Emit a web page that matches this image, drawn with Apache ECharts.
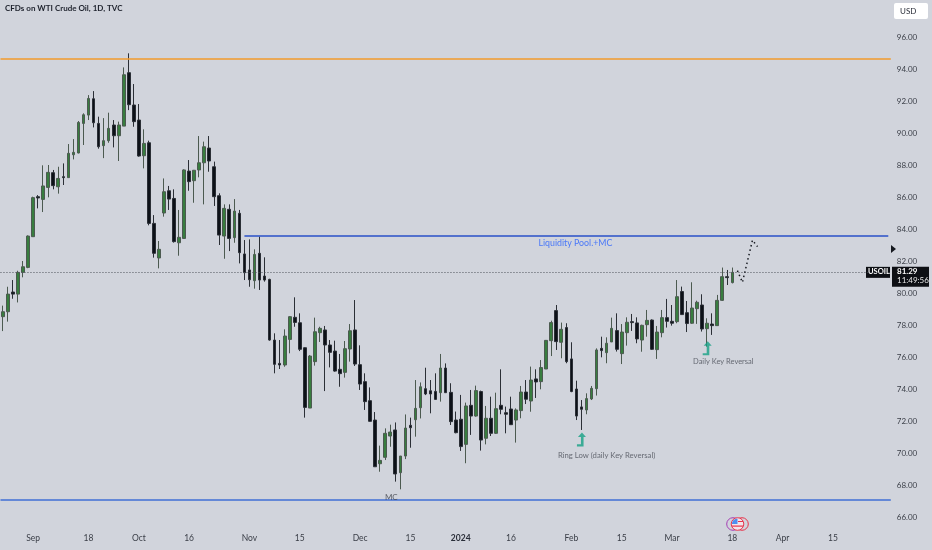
<!DOCTYPE html>
<html><head><meta charset="utf-8">
<style>html,body{margin:0;padding:0;background:#d1d4dc}#c{width:932px;height:550px}</style>
<script src="https://cdn.jsdelivr.net/npm/echarts@6/dist/echarts.min.js"></script>
</head><body><div id="c"></div>
<script>
const tickIndexes=[6,17,27,37,49,59,71,81,91,101,113,123,133,145,155,165];
const tickLabels=["Sep","18","Oct","16","Nov","15","Dec","15","2024","16","Feb","15","Mar","18","Apr","15"];
const opens=[78.52,78.83,80.06,79.93,81.29,81.6,83.52,86.02,85.85,86.6,87.52,86.64,87.27,87.21,88.64,88.75,90.6,91.12,92.14,90.6,89.21,89.52,90.5,89.83,90.43,93.77,91.75,90.81,88.58,89.39,84.35,82.19,85,86.39,85.91,83.14,83.41,87.62,87.02,87.69,88.14,89.06,87.89,86.08,83.56,85.23,83.46,84.98,82.44,81.44,80.77,82.48,81.06,80.85,77.06,75.6,75.5,77.1,78.48,78.14,76.58,72.81,75.71,77.52,77.69,76.75,76.37,75.23,75.04,76.5,77.69,75.52,74.46,73.27,72.06,69.33,69.73,71.06,71.44,68.77,69.81,71.73,72.08,72.83,74.02,73.89,73.85,73.77,75.31,73.79,72.06,72.11,70.54,72.98,72.31,73.84,70.92,72.17,71.23,72.98,72.52,72.75,72.06,72.65,73.81,73.25,74.63,74.46,75.25,77.02,78.9,76.92,77.84,75.88,74,72.88,72.69,73.38,74.02,76.54,76.27,76.94,77.65,76.21,77.52,78.21,78.13,77.06,78.02,78.31,76.46,77.52,78.46,78.23,78.21,80.09,78.77,78.11,79.02,79.25,77.77,78.06,77.96,79.54,81.02,80.65];
const closes=[78.83,79.93,79.93,81.29,81.64,83.56,85.96,85.94,86.69,87.54,86.71,87.16,87.21,88.73,88.79,90.66,91.14,92.16,90.64,89.14,89.52,90.29,89.83,90.5,93.64,91.77,90.71,88.56,89.35,84.35,82.48,82.73,86.33,85.87,83.21,83.48,87.69,86.96,87.67,88.14,89.14,88.25,86.02,83.62,85.29,83.41,85.12,82.52,81.27,80.83,82.41,80.81,80.81,77.06,75.54,75.5,77.31,78.52,78.16,76.48,72.85,76.06,77.58,77.79,76.75,76.29,75.12,74.96,76.52,77.64,75.56,74.31,73.21,71.98,69.14,69.54,71.23,71.31,68.69,69.81,71.56,71.58,72.79,74.14,73.69,73.69,73.35,75.31,73.77,71.96,71.27,70.4,72.94,72.31,73.9,70.81,72.17,71.23,72.77,72.73,72.42,71.77,72.69,73.81,73.36,74.56,74.44,75.34,77.04,78.15,76.96,77.73,75.71,73.84,72.31,72.73,73.4,74.04,76.44,76.4,76.86,77.79,76.48,77.56,78.17,78.15,77.13,77.98,78.29,76.48,77.56,78.46,78.23,78.11,79.77,78.65,78.09,79.06,79.42,77.75,78.11,77.96,79.54,81.02,80.96,81.29];
const lows=[77.62,78.21,79.64,79.41,80.98,81.55,83.5,85.29,85.06,85.98,86.48,86.21,86.75,87.21,88.35,88.73,89.25,90.81,90.35,89.02,88.43,89.39,89.1,88.25,90.43,91.43,90.39,88.52,87.79,84.23,82.21,81.54,84.77,85.19,83.15,82.33,83.41,86.39,85.64,87.23,85.54,87.58,85.44,83,82.14,82.62,83.14,81.85,80.81,80.39,80.27,80.19,80.71,77.02,74.98,75.25,75.39,76.23,77.89,76.37,72.21,72.81,75.46,76.94,73.87,75.35,75.08,74.14,74.71,75.71,75.44,73.94,72.69,71.96,69.14,68.83,69.56,70.39,68.21,67.73,69.62,70.33,71.02,72.16,73.62,72.48,73.35,73.21,73.77,71.75,71.23,70.13,69.36,71.13,72.27,70.15,70.54,71.06,71.19,72.42,71.23,71.75,70.65,72.17,73.06,72.58,73.44,73.98,75.25,76.06,76.44,75.92,75.61,73.8,72.06,71.44,72.42,73.31,73.59,75.98,75.61,76.94,76.34,75.56,76.71,77.63,76.86,76.33,77.27,76.44,75.88,77.23,77.84,77.96,78.11,78.63,77.56,78.07,78.07,77.59,76.65,77.38,77.94,79.5,80.5,80.6];
const highs=[79.21,80.39,80.81,81.39,82,83.6,86.02,86.12,87.98,88,87.69,87.89,88.1,89.31,89.62,90.75,91.23,92.37,92.62,91.02,90.93,91.27,90.81,90.71,94.1,94.98,93.06,91.81,90.23,89.52,84.87,83.25,87.16,86.69,86.48,85.19,87.73,88.31,87.69,89.81,89.46,89.81,88.21,86.23,85.54,85.54,85.87,85.19,83.31,83.35,82.73,83.52,82.23,80.89,77.48,77.06,77.73,78.56,79.73,78.73,76.6,76.12,78.46,77.89,77.94,77.06,77.02,76.19,77,78.06,79.56,76.73,74.98,74.1,72.56,70.46,71.54,71.77,71.91,69.81,72.41,72.21,74.56,74.41,75.33,74.56,74.98,76.19,75.6,74.36,72.59,73.63,73.15,73.94,74.21,73.9,72.94,73.52,73.77,75.23,72.9,73.52,72.79,74.19,74.56,75.4,75.23,75.81,77.06,78.27,79.25,78.15,78.11,76.92,74.52,73.31,73.73,74.19,76.54,77.27,77.23,78.46,78.73,78.06,78.48,78.69,78.48,78.02,78.94,78.35,77.94,78.94,79.63,79.25,80.81,80.4,79.5,80.67,79.52,79.92,78.42,78.73,79.88,81.59,81.44,81.59];
const levelTop=94.65, levelLiquidity=83.55, levelBottom=67.07, lastPrice=81.29;
const liquidityStart=48;
const projection=[[146,81.4],[147,80.67],[149,83.3],[150,82.9]];
const arrows=[[115,70.85],[140,76.55]];
const notes=[[114,83.12,"Liquidity Pool.+MC",-1,"#2962ff",8.8],[77,67.25,"MC",1,"#3c4048",8],[120,69.87,"Ring Low (daily Key Reversal)",0,"#4a4e57",7.7],[143,75.69,"Daily Key Reversal",1,"#4a4e57",7.5]];
const BAND_COUNT=177;

const categories=Array.from({length:BAND_COUNT},(_,i)=>{const k=tickIndexes.indexOf(i);return k<0?"":tickLabels[k];});
const candles=opens.map((o,i)=>[o,closes[i],lows[i],highs[i]]);
const FONT='Lato,"Noto Sans",sans-serif';
const chart=echarts.init(document.getElementById('c'),null,{renderer:'canvas'});
const arrowPath='path://M6,0 L10,5 L7.6,5 L7.6,15 L1,15 L1,12.8 L5,12.8 L5,5 L2,5 Z';
chart.setOption({
  animation:false,
  backgroundColor:'#d1d4dc',
  textStyle:{fontFamily:FONT},
  grid:{left:-1.2,width:892,top:5,height:512},
  xAxis:{type:'category',data:categories,boundaryGap:true,axisLine:{show:false},axisTick:{show:false},splitLine:{show:false},
    axisLabel:{interval:0,margin:17,fontSize:8.5,color:'#3a3e47',fontFamily:FONT,
      formatter:v=>v==='2024'?'{b|2024}':v,rich:{b:{fontWeight:'bold',fontSize:8.5,color:'#2a2e39',fontFamily:FONT}}}},
  yAxis:{type:'value',position:'right',min:66,max:98,interval:2,axisLine:{show:false},axisTick:{show:false},splitLine:{show:false},
    axisLabel:{margin:6,fontSize:8,color:'#3a3e47',fontFamily:FONT,showMaxLabel:false,formatter:v=>v.toFixed(2)}},
  series:[
    {type:'candlestick',data:candles,barWidth:3.2,clip:false,
      itemStyle:{color:'#387d3f',color0:'#0d1118',borderColor:'#4c5a50',borderColor0:'#2b2f36',borderWidth:1},
      markLine:{silent:true,symbol:'none',animation:false,label:{show:false},data:[
        {yAxis:lastPrice,lineStyle:{color:'#4d515a',type:[1,2],width:1}},
        {yAxis:levelTop,lineStyle:{color:'#f29b2c',type:'solid',width:1.6}},
        {yAxis:levelBottom,lineStyle:{color:'#3f6fd6',type:'solid',width:1.5}},
        [{coord:[liquidityStart,levelLiquidity],lineStyle:{color:'#2850c8',type:'solid',width:1.5}},{coord:[BAND_COUNT-1,levelLiquidity]}]
      ]}},
    {type:'line',data:projection,showSymbol:false,smooth:false,lineStyle:{color:'#15181f',type:[1.5,3],width:1.5},z:5},
    {type:'scatter',data:arrows,symbol:arrowPath,symbolSize:[9,14],itemStyle:{color:'#15a085'},z:6},
    {type:'scatter',data:notes.map(n=>({value:[n[0],n[1]],label:{formatter:n[2],offset:[n[3],0],color:n[4],fontSize:n[5]}})),symbolSize:0,z:6,
      label:{show:true,position:'inside',fontFamily:FONT}}
  ]
});
const y=chart.convertToPixel({yAxisIndex:0},lastPrice);
chart.setOption({graphic:{elements:[
  {type:'text',left:5,top:4,style:{text:'CFDs on WTI Crude Oil, 1D, TVC',font:'bold 8px '+FONT,fill:'#1e222d'}},
  {type:'rect',shape:{x:894,y:3,width:34,height:16,r:2},style:{fill:'#fff'}},
  {type:'text',x:900,y:7,style:{text:'USD',font:'8px '+FONT,fill:'#2a2e39'}},
  {type:'polygon',shape:{points:[[891,245],[896,249],[891,253]]},style:{fill:'#15181f'}},
  {type:'rect',shape:{x:866,y:y-5.5,width:24,height:11},style:{fill:'#0d0f14'}},
  {type:'text',x:868,y:y-4.5,style:{text:'USOIL',font:'bold 7.5px '+FONT,fill:'#fff'}},
  {type:'rect',shape:{x:892,y:y-5.5,width:37,height:20},style:{fill:'#0d0f14'}},
  {type:'text',x:897,y:y-5,style:{text:lastPrice.toFixed(2),font:'bold 8px '+FONT,fill:'#fff'}},
  {type:'text',x:897,y:y+4,style:{text:'11:49:56',font:'8px '+FONT,fill:'#e8e8e8'}},
  {type:'group',children:[
    {type:'circle',shape:{cx:733,cy:524,r:6.3},style:{fill:'none',stroke:'#a53fb5',lineWidth:1}},
    {type:'circle',shape:{cx:742,cy:524,r:6.3},style:{fill:'none',stroke:'#e8344c',lineWidth:1}},
    {type:'circle',shape:{cx:737.5,cy:524,r:6.3},style:{fill:'#f3e4ea',stroke:'#e8344c',lineWidth:1}},
    {type:'sector',shape:{cx:737.5,cy:524,r:5.6,r0:0,startAngle:Math.PI,endAngle:Math.PI*1.5},style:{fill:'#4e8ff0'}},
    {type:'rect',shape:{x:738,y:521,width:5,height:1},style:{fill:'#e8344c'}},
    {type:'rect',shape:{x:732,y:525.5,width:11,height:1.2},style:{fill:'#e8344c'}}
  ]}
]}});
</script></body></html>
